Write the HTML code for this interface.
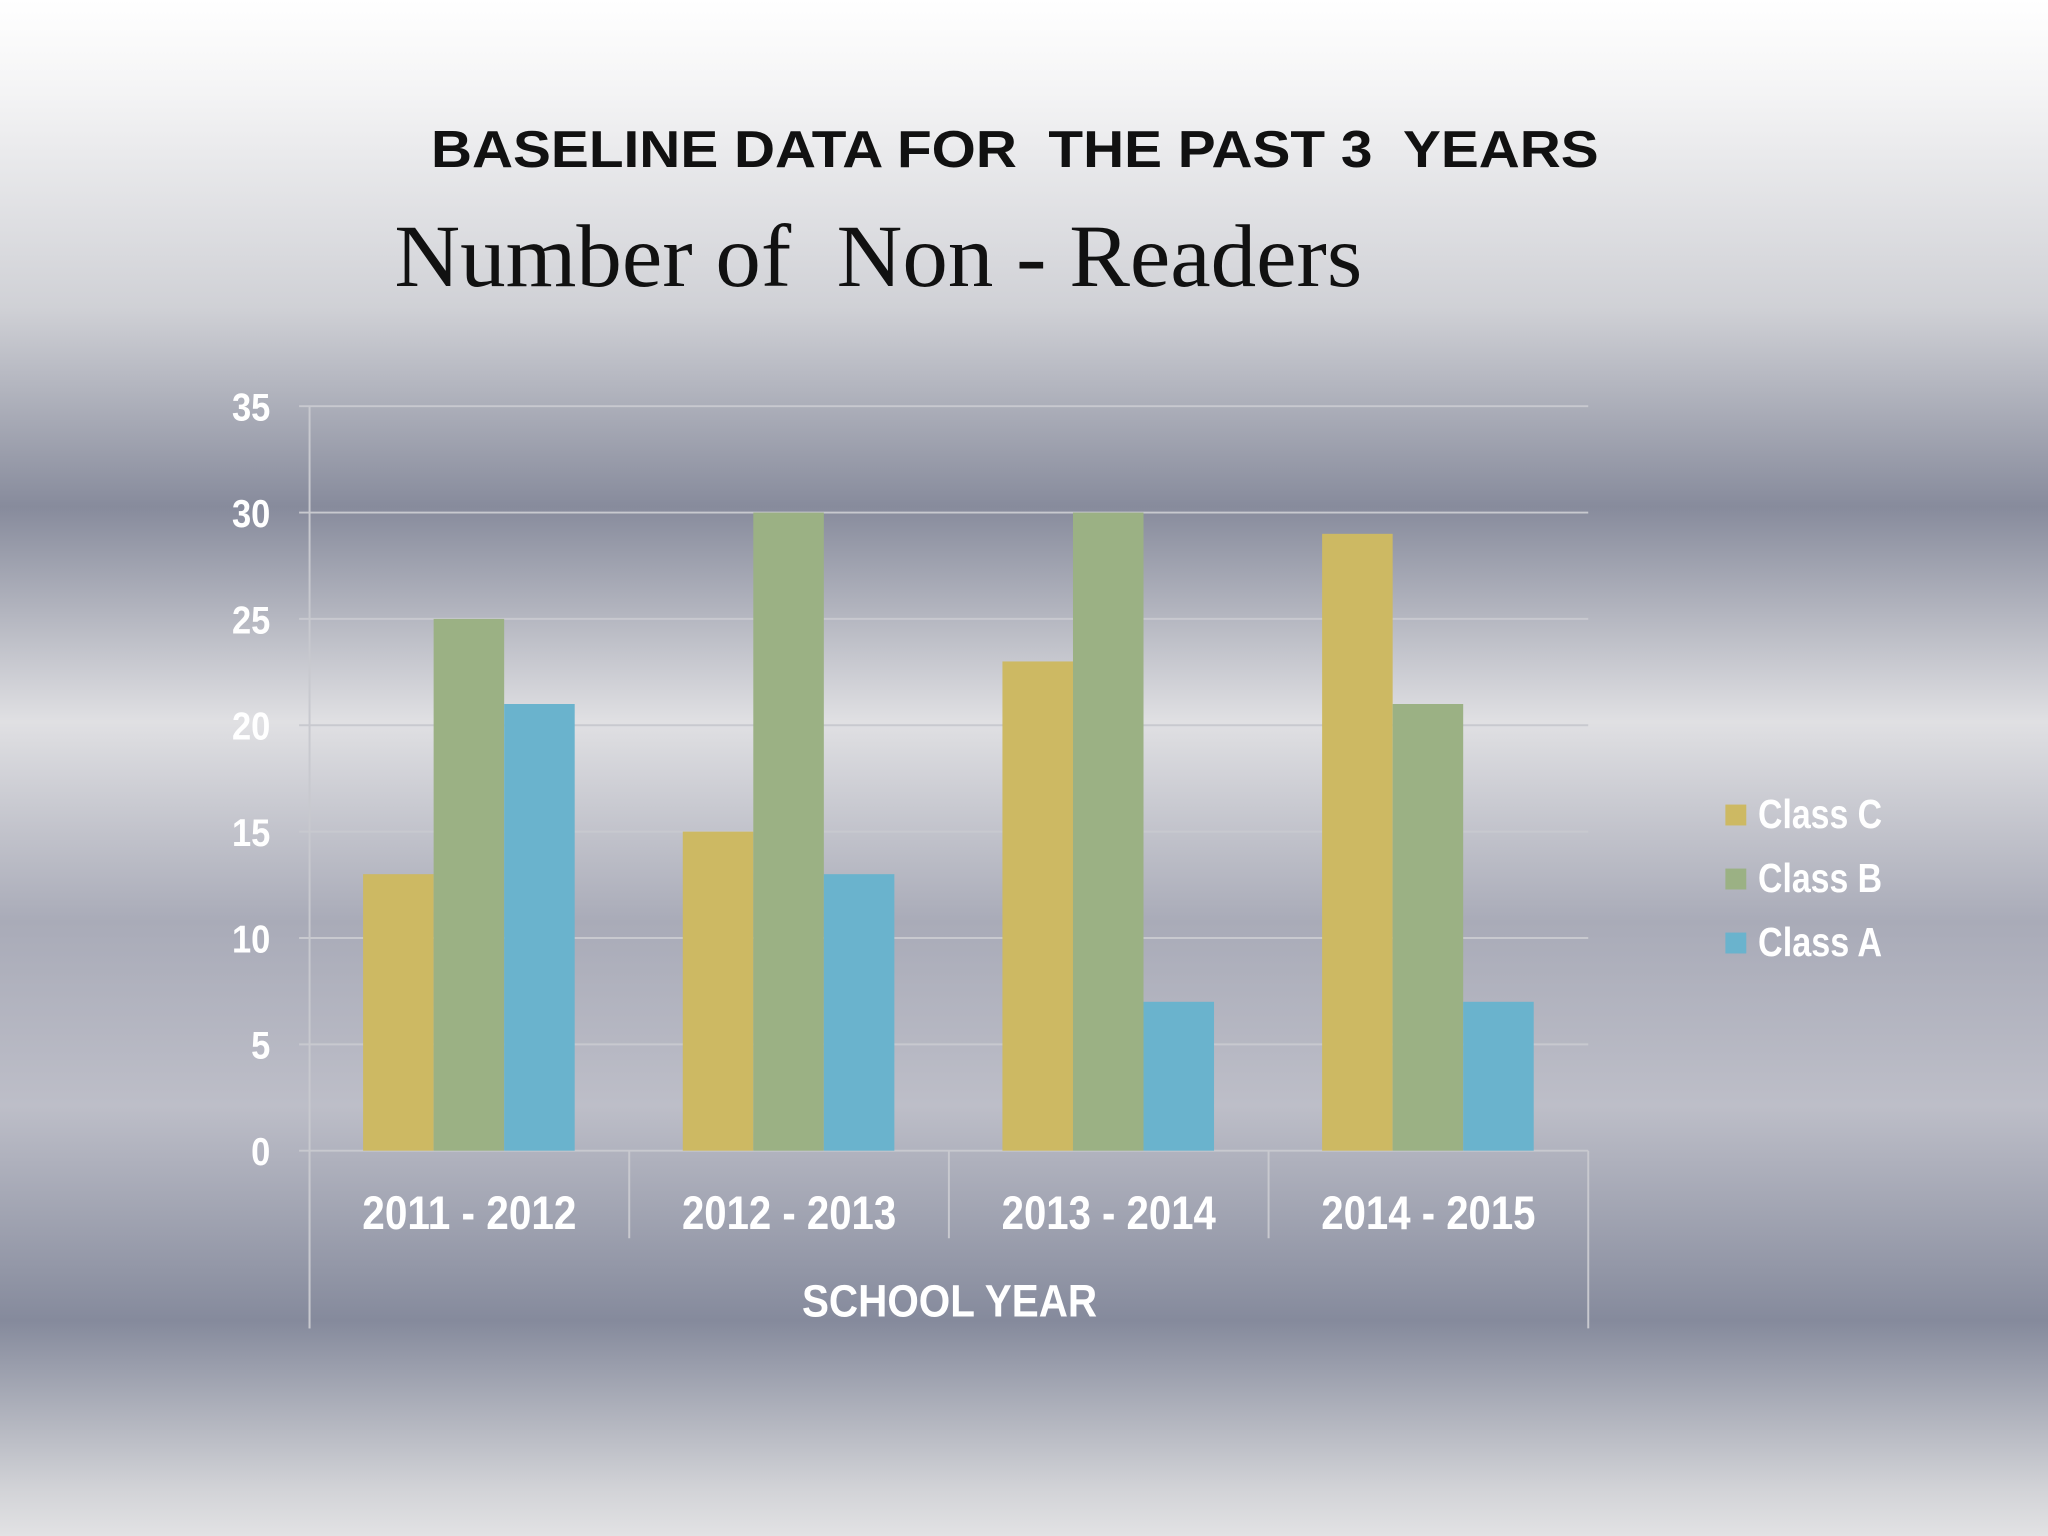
<!DOCTYPE html>
<html><head><meta charset="utf-8">
<style>
html,body{margin:0;padding:0;width:2048px;height:1536px;overflow:hidden}
svg{display:block}
</style></head>
<body>
<svg id="chart" width="2048" height="1536" viewBox="0 0 1568 1176" xmlns="http://www.w3.org/2000/svg">
<defs>
<linearGradient id="bg" x1="0" y1="0" x2="0" y2="1">
<stop offset="0" stop-color="#ffffff"/>
<stop offset="0.06" stop-color="#f4f4f5"/>
<stop offset="0.2" stop-color="#d0d1d6"/>
<stop offset="0.33" stop-color="#878b9c"/>
<stop offset="0.47" stop-color="#e0e0e3"/>
<stop offset="0.6" stop-color="#a9abb8"/>
<stop offset="0.72" stop-color="#bdbec8"/>
<stop offset="0.86" stop-color="#858a9c"/>
<stop offset="0.97" stop-color="#d2d3d7"/>
<stop offset="1" stop-color="#e2e2e4"/>
</linearGradient>
</defs>
<rect x="0" y="0" width="1568" height="1176" fill="url(#bg)"/>
<text x="330" y="128" textLength="894" lengthAdjust="spacingAndGlyphs" xml:space="preserve" font-family="Liberation Sans, sans-serif" font-weight="bold" font-size="40" fill="#111">BASELINE DATA FOR  THE PAST 3  YEARS</text>
<text x="302" y="219" textLength="741" lengthAdjust="spacingAndGlyphs" font-family="Liberation Serif, serif" font-size="68" fill="#111" xml:space="preserve">Number of  Non - Readers</text>
<g id="grid"></g>
<g id="bars"></g>
<g id="labels"></g>
<g id="legend"></g>
</svg>
<script>
const categories = ["2011 - 2012","2012 - 2013","2013 - 2014","2014 - 2015"];
const seriesNames = ["Class C","Class B","Class A"];
const classC = [13,15,23,29];
const classB = [25,30,30,21];
const classA = [21,13,7,7];
const yTicks = [0,5,10,15,20,25,30,35];
const colors = ["#cdb963","#9bb184","#6ab3cd"];
const series = [classC, classB, classA];

const NS="http://www.w3.org/2000/svg";
const X0=237, X1=1216, Y0=881, Y35=311, YMAX=35;
const gw=(X1-X0)/categories.length;
const yScale=v=>Y0-(v/YMAX)*(Y0-Y35);
const xBand=i=>X0+i*gw;
function mk(tag,attrs,parent){const e=document.createElementNS(NS,tag);for(const k in attrs)e.setAttribute(k,attrs[k]);parent.appendChild(e);return e;}
const grid=document.getElementById('grid'),bars=document.getElementById('bars'),labels=document.getElementById('labels'),legend=document.getElementById('legend');
const FN='"Liberation Sans Narrow","Liberation Sans",sans-serif';

yTicks.forEach(t=>{
  const y=yScale(t);
  const l=mk('line',{x1:X0-8,x2:X1,y1:y,y2:y,stroke:'#c8c9cf','stroke-width':1.5},grid);
  
  
  const tx=mk('text',{x:207,y:y+11,'text-anchor':'end','font-family':FN,'font-weight':'bold','font-size':30,fill:'#fff',transform:`translate(${207*0.12},0) scale(0.88,1)`},labels);
  tx.textContent=t;
  
  
});
const ax=mk('line',{x1:X0,x2:X0,y1:Y35,y2:1017,stroke:'#c8c9cf','stroke-width':1.5},grid);


for(let i=0;i<=categories.length;i++){
  const x=xBand(i);
  const l=mk('line',{x1:x,x2:x,y1:Y0,y2:(i===0||i===categories.length)?1017:948,stroke:'#c8c9cf','stroke-width':1.5},grid);
  
  
}
const bw=54, off=41;
categories.forEach((c,i)=>{
  series.forEach((s,j)=>{
    const y=yScale(s[i]);
    const r=mk('rect',{x:xBand(i)+off+j*bw,y:y,width:bw,height:Y0-y,fill:colors[j]},bars);
    
    
  });
  const t=mk('text',{x:xBand(i)+gw/2-82,y:941,textLength:164,lengthAdjust:'spacingAndGlyphs','font-family':FN,'font-weight':'bold','font-size':36,fill:'#fff'},labels);
  t.textContent=c;
  
  
});
const xt=mk('text',{x:614,y:1008,textLength:226,lengthAdjust:'spacingAndGlyphs','font-family':FN,'font-weight':'bold','font-size':35,fill:'#fff'},labels);
xt.textContent='SCHOOL YEAR';


seriesNames.forEach((n,j)=>{
  const y=616+j*49;
  const sq=mk('rect',{x:1321,y:y,width:16,height:16,fill:colors[j]},legend);
  
  
  const t=mk('text',{x:1346,y:y+18,textLength:95,lengthAdjust:'spacingAndGlyphs','font-family':FN,'font-weight':'bold','font-size':31,fill:'#fff'},legend);
  t.textContent=n;
  
  
});
</script>
</body></html>
